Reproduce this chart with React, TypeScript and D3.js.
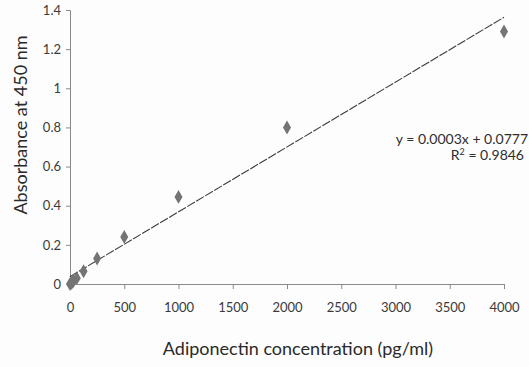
import { useEffect, useRef } from 'react';
import * as d3 from 'd3';

const concentrations = [0, 15.6, 31.25, 62.5, 125, 250, 500, 1000, 2000, 4000];
const absorbances = [0.0, 0.005, 0.015, 0.03, 0.065, 0.13, 0.24, 0.445, 0.8, 1.29];
const xTicks = [0, 500, 1000, 1500, 2000, 2500, 3000, 3500, 4000];
const yTicks = [0, 0.2, 0.4, 0.6, 0.8, 1, 1.2, 1.4];
const equationText = 'y = 0.0003x + 0.0777';
const rSquaredValue = '0.9846';

const WIDTH = 529;
const HEIGHT = 367;
const FONT = 'Lato, "Open Sans", sans-serif';

export default function App() {
  const svgRef = useRef<SVGSVGElement>(null);

  useEffect(() => {
    if (!svgRef.current) return;
    const margin = { top: 10, right: 25, bottom: 83, left: 70 };

    const svg = d3.select(svgRef.current);
    svg.selectAll('*').remove();

    const x = d3.scaleLinear().domain([0, 4000]).range([margin.left, WIDTH - margin.right]);
    const y = d3.scaleLinear().domain([0, 1.4]).range([HEIGHT - margin.bottom, margin.top]);

    svg.append('rect').attr('width', WIDTH).attr('height', HEIGHT).attr('fill', '#fdfdfd');

    // y axis
    const yAxis = svg
      .append('g')
      .attr('transform', `translate(${margin.left},0)`)
      .call(d3.axisLeft(y).tickValues(yTicks).tickSize(4).tickPadding(5).tickFormat((d) => d3.format('~g')(d as number)));
    yAxis.select('.domain').attr('stroke', '#8a8a8a');
    yAxis.selectAll('line').attr('stroke', '#8a8a8a');
    yAxis.selectAll('text').attr('font-family', FONT).attr('font-size', 13).attr('fill', '#3a3a3a');

    // x axis
    const xAxis = svg
      .append('g')
      .attr('transform', `translate(0,${y(0)})`)
      .call(
        d3
          .axisBottom(x)
          .tickValues(xTicks)
          .tickSize(5)
          .tickSizeOuter(0)
          .tickPadding(14)
          .tickFormat((d) => String(d))
      );
    xAxis.select('.domain').attr('stroke', '#8a8a8a');
    xAxis.selectAll('line').attr('stroke', '#8a8a8a');
    xAxis.selectAll('text').attr('font-family', FONT).attr('font-size', 13).attr('fill', '#3a3a3a');

    // least-squares trend line
    const n = concentrations.length;
    const mx = d3.mean(concentrations) as number;
    const my = d3.mean(absorbances) as number;
    let sxy = 0;
    let sxx = 0;
    for (let i = 0; i < n; i++) {
      sxy += (concentrations[i] - mx) * (absorbances[i] - my);
      sxx += (concentrations[i] - mx) ** 2;
    }
    const slope = sxy / sxx;
    const intercept = my - slope * mx;
    const lineData: [number, number][] = [0, 4000].map((c) => [c, intercept + slope * c]);

    svg
      .append('path')
      .datum(lineData)
      .attr('fill', 'none')
      .attr('stroke', '#3c3c3c')
      .attr('stroke-width', 1.1)
      .attr('stroke-dasharray', '9,1.5')
      .attr(
        'd',
        d3
          .line<[number, number]>()
          .x((d) => x(d[0]))
          .y((d) => y(d[1]))
      );

    // markers
    const diamond = d3.symbol().type(d3.symbolDiamond).size(56);
    svg
      .append('g')
      .selectAll('path')
      .data(concentrations.map((c, i) => ({ c, a: absorbances[i] })))
      .enter()
      .append('path')
      .attr('transform', (d) => `translate(${x(d.c)},${y(d.a)})`)
      .attr('d', diamond)
      .attr('fill', '#747474');

    // equation
    svg
      .append('text')
      .attr('x', 528)
      .attr('y', 144)
      .attr('text-anchor', 'end')
      .attr('font-family', FONT)
      .attr('font-size', 14)
      .attr('fill', '#2e2e2e')
      .text(equationText);

    const r2 = svg
      .append('text')
      .attr('x', 524)
      .attr('y', 160)
      .attr('text-anchor', 'end')
      .attr('font-family', FONT)
      .attr('font-size', 14)
      .attr('fill', '#2e2e2e');
    r2.append('tspan').text('R');
    r2.append('tspan').attr('dy', -5).attr('font-size', 9).text('2');
    r2.append('tspan').attr('dy', 5).text(` = ${rSquaredValue}`);

    // axis titles
    svg
      .append('text')
      .attr('x', 298)
      .attr('y', 355)
      .attr('text-anchor', 'middle')
      .attr('font-family', FONT)
      .attr('font-size', 18)
      .attr('fill', '#2a2a2a')
      .text('Adiponectin concentration (pg/ml)');

    svg
      .append('text')
      .attr('transform', `translate(27,125) rotate(-90)`)
      .attr('text-anchor', 'middle')
      .attr('font-family', FONT)
      .attr('font-size', 18)
      .attr('fill', '#2a2a2a')
      .text('Absorbance at 450 nm');
  }, []);

  return (
    <svg
      ref={svgRef}
      width={WIDTH}
      height={HEIGHT}
      style={{ position: 'absolute', left: 0, top: 0 }}
    />
  );
}
